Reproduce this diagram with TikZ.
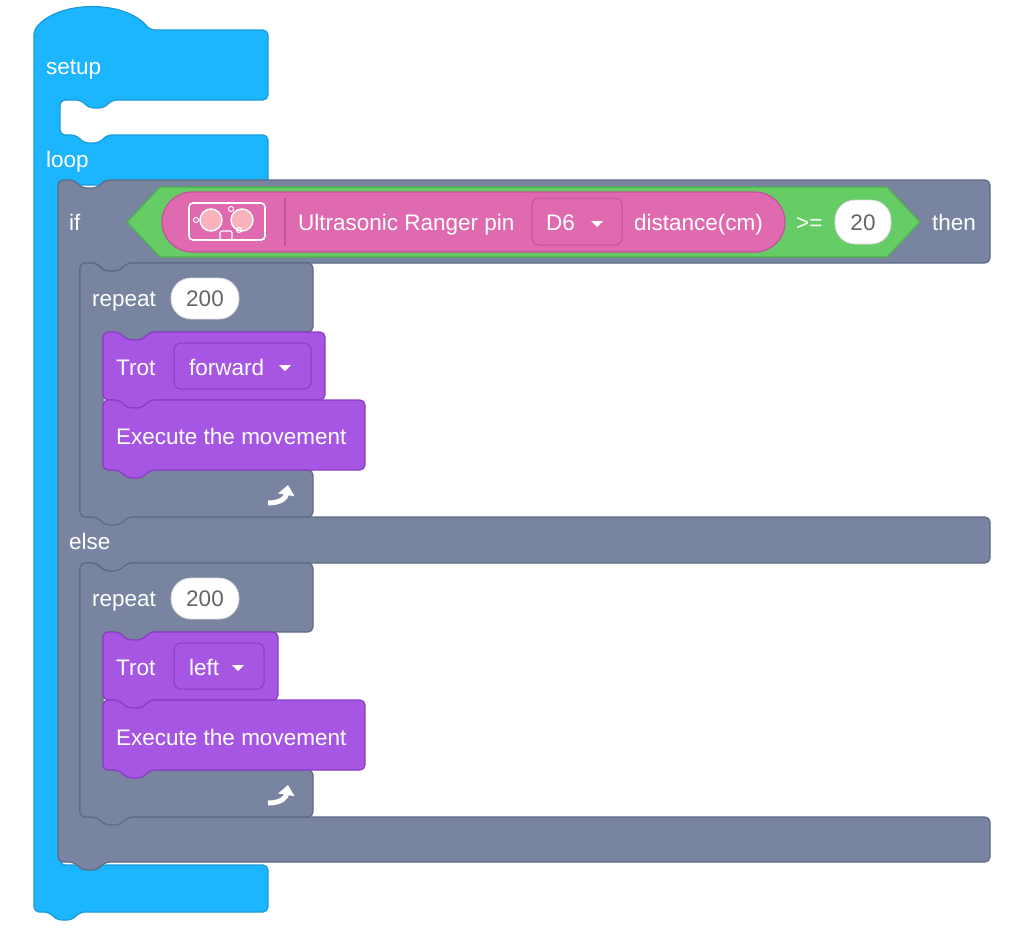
\documentclass[tikz,border=0pt]{standalone}
\usepackage{fontspec}
\setmainfont{Liberation Sans}
\usetikzlibrary{arrows.meta}
\definecolor{cblue}{HTML}{1CB5FF}
\definecolor{cblueD}{HTML}{1A9AD8}
\definecolor{cgray}{HTML}{7884A0}
\definecolor{cgrayD}{HTML}{5E6A85}
\definecolor{cpur}{HTML}{A656E3}
\definecolor{cpurD}{HTML}{8A3CC6}
\definecolor{cgreen}{HTML}{66CC66}
\definecolor{cgreenD}{HTML}{4DB24D}
\definecolor{cpink}{HTML}{E06AB0}
\definecolor{cpinkD}{HTML}{C4529A}
\definecolor{ctext}{HTML}{666666}
\tikzset{
  blk/.style={rounded corners=5pt, line width=1.2pt},
  lbl/.style={text=white, font=\fontsize{22.5}{26}\selectfont, anchor=base west, inner sep=0pt},
  val/.style={text=ctext, font=\fontsize{22.5}{26}\selectfont, anchor=base, inner sep=0pt},
  oval/.style={fill=white, draw=black!15, rounded corners=20pt, line width=0.8pt},
  dd/.style={rounded corners=7pt, line width=1pt},
  tri/.style={fill=white, draw=none}
}
\begin{document}
\begin{tikzpicture}[x=1pt,y=-1pt]
\useasboundingbox (0,0) rectangle (1025,938);
% blue setup/loop
\draw[blk, fill=cblue, draw=cblueD] (34,30) .. controls (60,0) and (125,0) .. (150,30) -- (268,30) -- (268,100) -- (112,100) -- ++(-8,8) -- ++(-15,0) -- ++(-8,-8) -- (60,100) -- (60,135) -- (76,135) -- ++(8,8) -- ++(15,0) -- ++(8,-8) -- (268,135) -- (268,185) -- (60,185) -- (60,865) -- (268,865) -- (268,912) -- (80,912) -- ++(-8,8) -- ++(-15,0) -- ++(-8,-8) -- (34,912) -- cycle;
\node[lbl] (setup) at (46,74) {setup};
\node[lbl] (loop) at (46,167) {loop};
% gray if/else
\draw[blk, fill=cgray, draw=cgrayD] (58,180) -- (74,180) -- ++(8,8) -- ++(15,0) -- ++(8,-8) -- (990,180) -- (990,263) -- (128,263) -- ++(-8,8) -- ++(-15,0) -- ++(-8,-8) -- (80,263) -- (80,517) -- (990,517) -- (990,563) -- (128,563) -- ++(-8,8) -- ++(-15,0) -- ++(-8,-8) -- (80,563) -- (80,817) -- (990,817) -- (990,862) -- (105,862) -- ++(-8,8) -- ++(-15,0) -- ++(-8,-8) -- (58,862) -- cycle;
\node[lbl] (if) at (69,230) {if};
\node[lbl] (else) at (69,549) {else};
\node[lbl] (then) at (932,230) {then};
% condition
\draw[fill=cgreen, draw=cgreenD, line width=1.2pt, line join=round] (127,222) -- (160,187) -- (887,187) -- (920,222) -- (887,257) -- (160,257) -- cycle;
\draw[fill=cpink, draw=cpinkD, line width=1.2pt, rounded corners=30pt] (162,192) rectangle (785,252);
\draw[white, line width=1.6pt, rounded corners=4pt] (189,203) rectangle (265,240);
\foreach \cx in {211,242}{\fill[pink!85!cpink] (\cx,220) circle (11); \draw[white, line width=1.4pt] (\cx,220) circle (11);}
\draw[white, line width=1pt] (196,220) circle (2.5) (231,209) circle (2.5) (239,230) circle (2.5);
\draw[white, line width=1.2pt, rounded corners=1.5pt] (220,231) rectangle (232,240);
\draw[cpinkD, line width=1.2pt] (285,198) -- (285,246);
\node[lbl] (ultra) at (298,230) {Ultrasonic Ranger pin};
\draw[dd, fill=cpink, draw=cpinkD] (532,198) rectangle (622,245);
\node[lbl] (d6) at (546,230) {D6};
\fill[tri] (591,221) -- (603,221) -- (597,227) -- cycle;
\node[lbl] (dist) at (634,230) {distance(cm)};
\node[lbl] (ge) at (796,230) {>=};
\draw[oval] (835,200) rectangle (891,244);
\node[val] (twenty) at (863,230) {20};
% repeat blocks
\foreach \y/\tw/\tl in {263/325/forward, 563/278/left}{
  \draw[blk, fill=cgray, draw=cgrayD] (80,\y) -- (96,\y) -- ++(8,8) -- ++(15,0) -- ++(8,-8) -- (313,\y) -- (313,\y+69) -- (150,\y+69) -- ++(-8,8) -- ++(-15,0) -- ++(-8,-8) -- (103,\y+69) -- (103,\y+207) -- (313,\y+207) -- (313,\y+254) -- (128,\y+254) -- ++(-8,8) -- ++(-15,0) -- ++(-8,-8) -- (80,\y+254) -- cycle;
  \draw[oval] (171,\y+15) rectangle (239,\y+56);
  \draw[blk, fill=cpur, draw=cpurD] (103,\y+69) -- (119,\y+69) -- ++(8,8) -- ++(15,0) -- ++(8,-8) -- (\tw,\y+69) -- (\tw,\y+137) -- (150,\y+137) -- ++(-8,8) -- ++(-15,0) -- ++(-8,-8) -- (103,\y+137) -- cycle;
  \draw[blk, fill=cpur, draw=cpurD] (103,\y+137) -- (119,\y+137) -- ++(8,8) -- ++(15,0) -- ++(8,-8) -- (365,\y+137) -- (365,\y+207) -- (150,\y+207) -- ++(-8,8) -- ++(-15,0) -- ++(-8,-8) -- (103,\y+207) -- cycle;
  \draw[dd, fill=cpur, draw=cpurD] (174,\y+80) rectangle (\tw-14,\y+126);
  \fill[tri] (\tw-46,\y+102) -- (\tw-34,\y+102) -- (\tw-40,\y+108) -- cycle;
  \draw[white, line width=5pt, -{Triangle[length=10pt,width=16pt]}] (268,\y+240) .. controls (282,\y+240) and (286,\y+234) .. (288,\y+222);
}
\node[lbl] (rep1) at (92,306) {repeat};
\node[val] (n1) at (205,306) {200};
\node[lbl] (trot1) at (116,375) {Trot};
\node[lbl] (fwd) at (189,375) {forward};
\node[lbl] (ex1) at (116,444) {Execute the movement};
\node[lbl] (rep2) at (92,606) {repeat};
\node[val] (n2) at (205,606) {200};
\node[lbl] (trot2) at (116,675) {Trot};
\node[lbl] (left) at (189,675) {left};
\node[lbl] (ex2) at (116,745) {Execute the movement};
\end{tikzpicture}
\end{document}
